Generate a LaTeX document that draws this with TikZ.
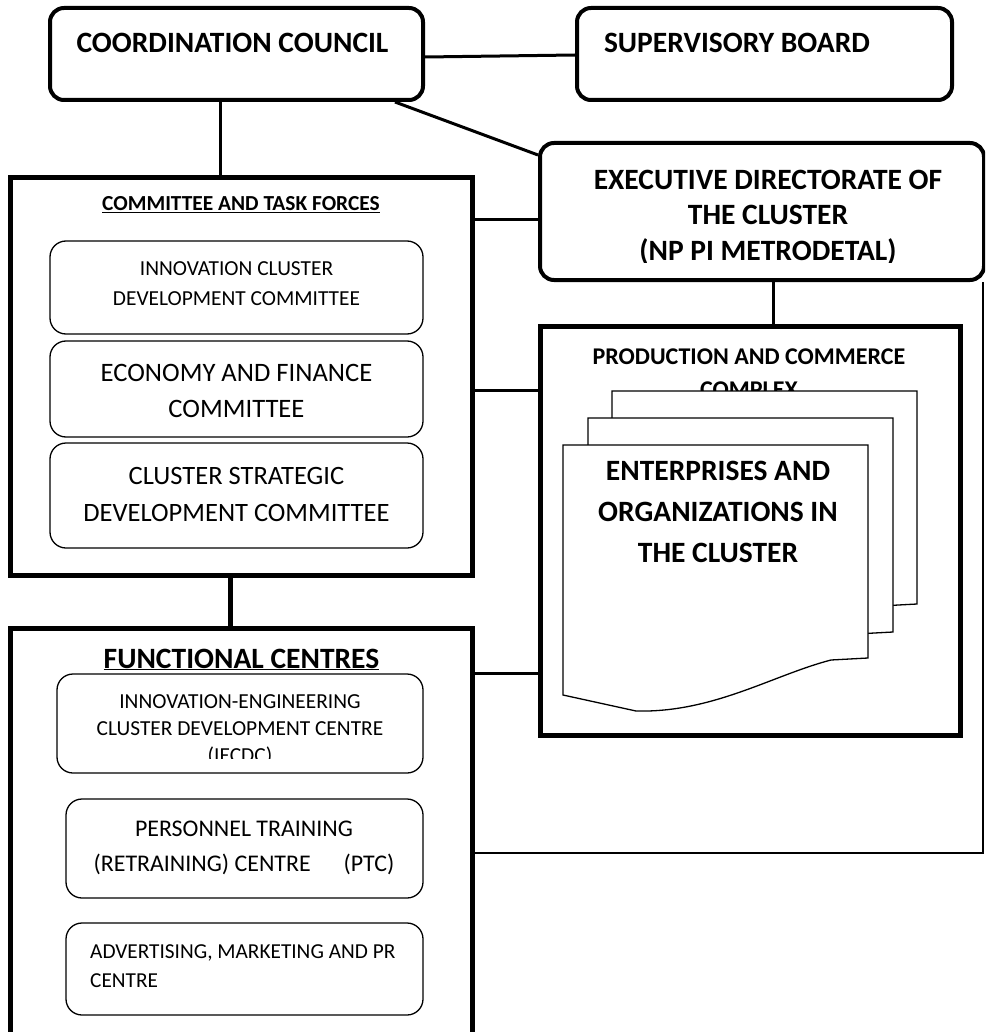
\documentclass[tikz,border=0pt]{standalone}
\usepackage{fontspec}
\setmainfont{Carlito}
\begin{document}
\begin{tikzpicture}[x=1pt,y=-1pt,
  bigbox/.style={draw,line width=4pt,rounded corners=14pt,inner sep=0pt},
  frame/.style={draw,line width=5pt,inner sep=0pt},
  inbox/.style={draw,line width=1.3pt,rounded corners=16pt,inner sep=0pt},
  conn/.style={line width=3pt},
  page/.style={draw,fill=white,line width=1.3pt},
  txt/.style={anchor=base,inner sep=0pt},
  lefttxt/.style={anchor=base west,inner sep=0pt},
  bfbig/.style={font=\fontsize{29.5pt}{32pt}\selectfont\bfseries}]
\useasboundingbox (0,0) rectangle (985,1032);
\clip (0,0) rectangle (985,1032);

% ---------- boxes ----------
\node[bigbox,minimum width=373pt,minimum height=92pt] (cc) at (236.5,54) {};
\node[bigbox,minimum width=375pt,minimum height=92pt] (sb) at (764.5,54) {};
\node[bigbox,minimum width=444pt,minimum height=137pt] (ed) at (762,211.5) {};
\node[frame,minimum width=462pt,minimum height=397pt] (ctf) at (241,376.5) {};
\node[inbox,minimum width=373pt,minimum height=93pt] (icdc) at (236.5,287.5) {};
\node[inbox,minimum width=373pt,minimum height=96pt] (efc) at (236.5,389) {};
\node[inbox,minimum width=373pt,minimum height=105pt] (csdc) at (236.5,495.5) {};
\node[frame,minimum width=462pt,minimum height=432pt] (fc) at (241,844) {};
\node[inbox,minimum width=366pt,minimum height=99pt] (iecdc) at (240,723.5) {};
\node[inbox,minimum width=357pt,minimum height=99pt] (ptc) at (244.5,848.5) {};
\node[inbox,minimum width=357pt,minimum height=92pt] (ampr) at (244.5,969) {};
\node[frame,minimum width=420pt,minimum height=409pt] (pcc) at (750,530.5) {};

% ---------- connectors ----------
\draw[conn] (cc.east |- 0,57) -- (sb.west |- 0,55);
\draw[conn] ([xshift=-30pt]cc.south east) -- ([yshift=-14pt]ed.north west);
\draw[conn] ([xshift=-16.5pt]cc.south) -- ([xshift=-16.5pt]cc.south |- ctf.north);
\draw[conn] (ctf.east |- 0,220) -- (ed.west |- 0,220);
\draw[conn] (ctf.east |- 0,390) -- (pcc.west |- 0,390);
\draw[line width=5pt] (ctf.south -| 230,0) -- (fc.north -| 230,0);
\draw[conn] (ed.south -| 773,0) -- (pcc.north -| 773,0);
\draw[conn] (fc.east |- 0,673) -- (pcc.west |- 0,673);
\coordinate (rc) at (983,853);
\draw[line width=2.5pt] (ed.south -| rc) -- (rc) -- (fc.east |- rc);

% ---------- texts ----------
\node[txt,bfbig] (cct) at (232.5,53) {COORDINATION COUNCIL};
\node[txt,bfbig] (sbt) at (737,53) {SUPERVISORY BOARD};
\node[txt,bfbig] (ed1) at (768,190) {EXECUTIVE DIRECTORATE OF};
\node[txt,bfbig] (ed2) at (768,225) {THE CLUSTER};
\begin{scope}
\clip (540,230) rectangle (984,262);
\node[txt,bfbig] (ed3) at (768,260) {(NP PI METRODETAL)};
\end{scope}

\node[txt,font=\fontsize{21.4pt}{24pt}\selectfont\bfseries] (ctft) at (241,211) {\underline{COMMITTEE AND TASK FORCES}};
\node[txt,font=\fontsize{21.4pt}{24pt}\selectfont] (icdc1) at (236.5,275) {INNOVATION CLUSTER};
\node[txt,font=\fontsize{21.4pt}{24pt}\selectfont] (icdc2) at (236.5,305) {DEVELOPMENT COMMITTEE};
\node[txt,font=\fontsize{26.6pt}{30pt}\selectfont] (efc1) at (236.5,381) {ECONOMY AND FINANCE};
\node[txt,font=\fontsize{26.6pt}{30pt}\selectfont] (efc2) at (236.5,417) {COMMITTEE};
\node[txt,font=\fontsize{26.5pt}{30pt}\selectfont] (csdc1) at (236.5,484) {CLUSTER STRATEGIC};
\node[txt,font=\fontsize{26.5pt}{30pt}\selectfont] (csdc2) at (236.5,521) {DEVELOPMENT COMMITTEE};

\node[txt,bfbig] (fct) at (241.5,668) {\underline{FUNCTIONAL CENTRES}};
\node[txt,font=\fontsize{21.4pt}{24pt}\selectfont] (ie1) at (240,708) {INNOVATION-ENGINEERING};
\node[txt,font=\fontsize{21.4pt}{24pt}\selectfont] (ie2) at (240,735) {CLUSTER DEVELOPMENT CENTRE};
\begin{scope}
\clip (57,740) rectangle (423,758);
\node[txt,font=\fontsize{21.4pt}{24pt}\selectfont] (ie3) at (240,762) {(IECDC)};
\end{scope}
\node[txt,font=\fontsize{23.9pt}{26pt}\selectfont] (ptc1) at (244,836) {PERSONNEL TRAINING};
\node[txt,font=\fontsize{23.9pt}{26pt}\selectfont] (ptc2) at (244,871) {(RETRAINING) CENTRE\hspace{33pt}(PTC)};
\node[lefttxt,font=\fontsize{21.3pt}{24pt}\selectfont] (am1) at (90,958) {ADVERTISING, MARKETING AND PR};
\node[lefttxt,font=\fontsize{21.3pt}{24pt}\selectfont] (am2) at (90,987) {CENTRE};

\node[txt,font=\fontsize{24pt}{26pt}\selectfont\bfseries] (pcc1) at (749,364) {PRODUCTION AND COMMERCE};
\node[txt,font=\fontsize{24pt}{26pt}\selectfont\bfseries] (pcc2) at (749,397) {COMPLEX};

% ---------- stacked documents ----------
\foreach \xo/\yt/\yl in {612/391/641,588/418/669,563/445/695}{
  \draw[page] (\xo,\yt) -- (\xo+305,\yt) -- (\xo+305,\yl-37) -- (\xo+268,\yl-35)
     .. controls (\xo+210,\yl-20) and (\xo+150,\yl+18) .. (\xo+73,\yl+16) -- (\xo,\yl) -- cycle;
}
\node[txt,bfbig] (en1) at (718,480) {ENTERPRISES AND};
\node[txt,bfbig] (en2) at (718,521) {ORGANIZATIONS IN};
\node[txt,bfbig] (en3) at (718,562) {THE CLUSTER};
\end{tikzpicture}
\end{document}
